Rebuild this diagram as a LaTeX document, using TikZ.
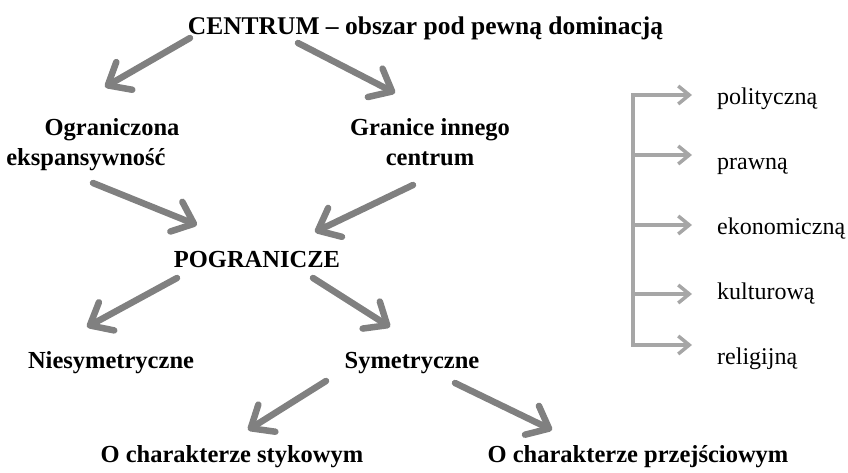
\documentclass[tikz,border=0pt]{standalone}
\usepackage{fontspec}
\setmainfont{Liberation Serif}
\usetikzlibrary{arrows.meta}
\definecolor{darkarrow}{HTML}{808080}
\definecolor{lightarrow}{HTML}{A6A6A6}
\begin{document}
\begin{tikzpicture}[x=1pt,y=-1pt,
  lbl/.style={inner sep=0pt, anchor=base, font=\fontsize{24.5}{30}\selectfont\bfseries},
  side/.style={inner sep=0pt, anchor=base west, font=\fontsize{24}{30}\selectfont},
  bigarrow/.style={draw=darkarrow, line width=6.5pt, line cap=round,
     -{Straight Barb[length=19pt,width=32pt,line cap=round,line join=round]}},
  smallarrow/.style={draw=lightarrow, line width=3.5pt,
     -{Straight Barb[length=11pt,width=18pt]}},
  smallboth/.style={draw=lightarrow, line width=3.5pt,
     {Straight Barb[length=11pt,width=18pt]}-{Straight Barb[length=11pt,width=18pt]}}
]
\useasboundingbox (0,0) rectangle (848,472);

% text nodes
\node[lbl, font=\fontsize{25.5}{30}\selectfont\bfseries] (centrum) at (425.5,34) {CENTRUM – obszar pod pewną dominacją};
\node[lbl] (ogr1) at (112,135) {Ograniczona};
\node[lbl] (ogr2) at (86,165) {ekspansywność};
\node[lbl] (gra1) at (430,135) {Granice innego};
\node[lbl] (gra2) at (430,165) {centrum};
\node[lbl] (pogr) at (257,267) {POGRANICZE};
\node[lbl] (niesym) at (111,368) {Niesymetryczne};
\node[lbl] (sym) at (412,368) {Symetryczne};
\node[lbl] (styk) at (232,462) {O charakterze stykowym};
\node[lbl] (przej) at (638,462) {O charakterze przejściowym};

% big arrows
\coordinate (c1s) at (190,38); \coordinate (c1e) at (105,87);
\coordinate (c2s) at (298,43); \coordinate (c2e) at (395,93);
\coordinate (o1s) at (93,183); \coordinate (o1e) at (197,225);
\coordinate (g1s) at (413,185); \coordinate (g1e) at (315,232);
\coordinate (p1s) at (177,278); \coordinate (p1e) at (87,327);
\coordinate (p2s) at (313,278); \coordinate (p2e) at (390,327);
\coordinate (s1s) at (326,381); \coordinate (s1e) at (248,430);
\coordinate (s2s) at (455,383); \coordinate (s2e) at (552,430);
\draw[bigarrow] (c1s) -- (c1e);
\draw[bigarrow] (c2s) -- (c2e);
\draw[bigarrow] (o1s) -- (o1e);
\draw[bigarrow] (g1s) -- (g1e);
\draw[bigarrow] (p1s) -- (p1e);
\draw[bigarrow] (p2s) -- (p2e);
\draw[bigarrow] (s1s) -- (s1e);
\draw[bigarrow] (s2s) -- (s2e);

% right list
\node[side] (pol) at (717,104) {polityczną};
\node[side] (pra) at (717,169) {prawną};
\node[side] (eko) at (717,234) {ekonomiczną};
\node[side] (kul) at (717,299) {kulturową};
\node[side] (rel) at (717,364) {religijną};

\coordinate (b1) at (633,95);  \coordinate (t1) at (692,95);
\coordinate (b2) at (633,155); \coordinate (t2) at (692,155);
\coordinate (b3) at (633,225); \coordinate (t3) at (692,225);
\coordinate (b4) at (633,294); \coordinate (t4) at (692,294);
\coordinate (b5) at (633,345); \coordinate (t5) at (692,345);
\draw[smallboth] (t1) -- (b1) -- (b5) -- (t5);
\draw[smallarrow] (b2) -- (t2);
\draw[smallarrow] (b3) -- (t3);
\draw[smallarrow] (b4) -- (t4);
\end{tikzpicture}
\end{document}
